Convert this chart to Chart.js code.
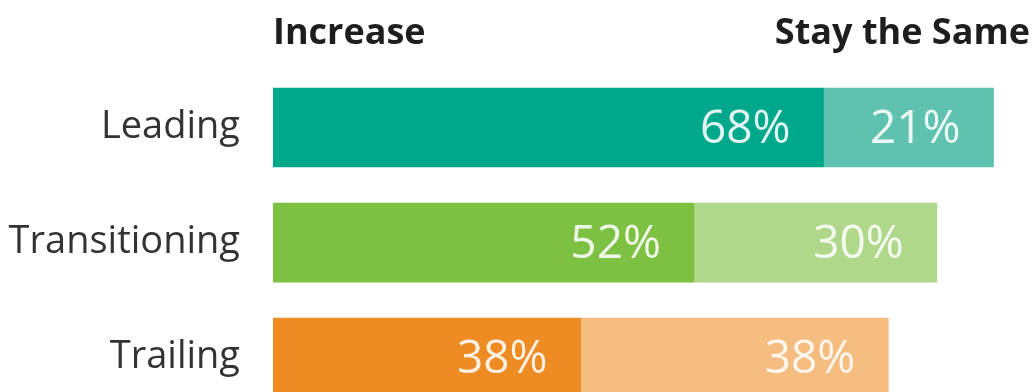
<!DOCTYPE html>
<html>
<head>
<meta charset="utf-8">
<script src="https://cdn.jsdelivr.net/npm/chart.js@4"></script>
<style>
  html, body { margin: 0; padding: 0; background: #fff; overflow: hidden; }
  #wrap { position: relative; width: 1034px; height: 463px; }
  #outlookChart { display: block; }
</style>
</head>
<body>
<div id="wrap"><canvas id="outlookChart" width="1034" height="463"></canvas></div>
<script>
'use strict';

// ─── Data ─────────────────────────────────────────────────────
const groups      = ['Leading', 'Transitioning', 'Trailing'];
const increase    = [68, 52, 38];
const staySame    = [21, 30, 38];
const seriesNames = ['Increase', 'Stay the Same'];

const darkColors  = ['#00a88b', '#7dc143', '#ee8b22'];
const lightColors = ['#5ec2af', '#b0d88b', '#f6bd80'];

const FONT = "'Open Sans', 'DejaVu Sans', sans-serif";

// ─── Value labels inside each segment ─────────────────────────
const segmentLabels = {
  id: 'segmentLabels',
  afterDatasetsDraw(chart) {
    const ctx = chart.ctx;
    ctx.save();
    ctx.font = `400 46px ${FONT}`;
    ctx.fillStyle = 'rgba(255,255,255,0.88)';
    ctx.textAlign = 'right';
    ctx.textBaseline = 'middle';
    chart.data.datasets.forEach((ds, di) => {
      chart.getDatasetMeta(di).data.forEach((bar, i) => {
        ctx.fillText(`${ds.data[i]}%`, bar.x - 33, bar.y + 2);
      });
    });
    ctx.restore();
  }
};

// ─── Column headers above the bars ────────────────────────────
const headers = {
  id: 'headers',
  afterDraw(chart) {
    const { ctx, chartArea } = chart;
    ctx.save();
    ctx.font = `700 36px ${FONT}`;
    ctx.fillStyle = '#1e1e1e';
    ctx.textBaseline = 'alphabetic';
    ctx.textAlign = 'left';
    ctx.fillText(seriesNames[0], chartArea.left, 44);
    ctx.textAlign = 'right';
    ctx.fillText(seriesNames[1], chartArea.right - 4, 44);
    ctx.restore();
  }
};

new Chart(document.getElementById('outlookChart'), {
  type: 'bar',
  data: {
    labels: groups,
    datasets: [
      { label: seriesNames[0], data: increase, backgroundColor: darkColors },
      { label: seriesNames[1], data: staySame, backgroundColor: lightColors },
    ]
  },
  options: {
    indexAxis: 'y',
    responsive: false,
    animation: false,
    layout: { padding: { top: 70, bottom: 15, left: 0, right: 0 } },
    datasets: { bar: { barThickness: 79, borderWidth: 0 } },
    scales: {
      x: { stacked: true, display: false, min: 0, max: 94 },
      y: {
        stacked: true,
        grid: { display: false },
        border: { display: false },
        ticks: { color: '#333', padding: 25, font: { family: FONT, size: 38 } },
        afterFit(scale) { scale.width = 273; }
      }
    },
    plugins: {
      legend: { display: false },
      tooltip: { enabled: false }
    }
  },
  plugins: [segmentLabels, headers]
});
</script>
</body>
</html>
